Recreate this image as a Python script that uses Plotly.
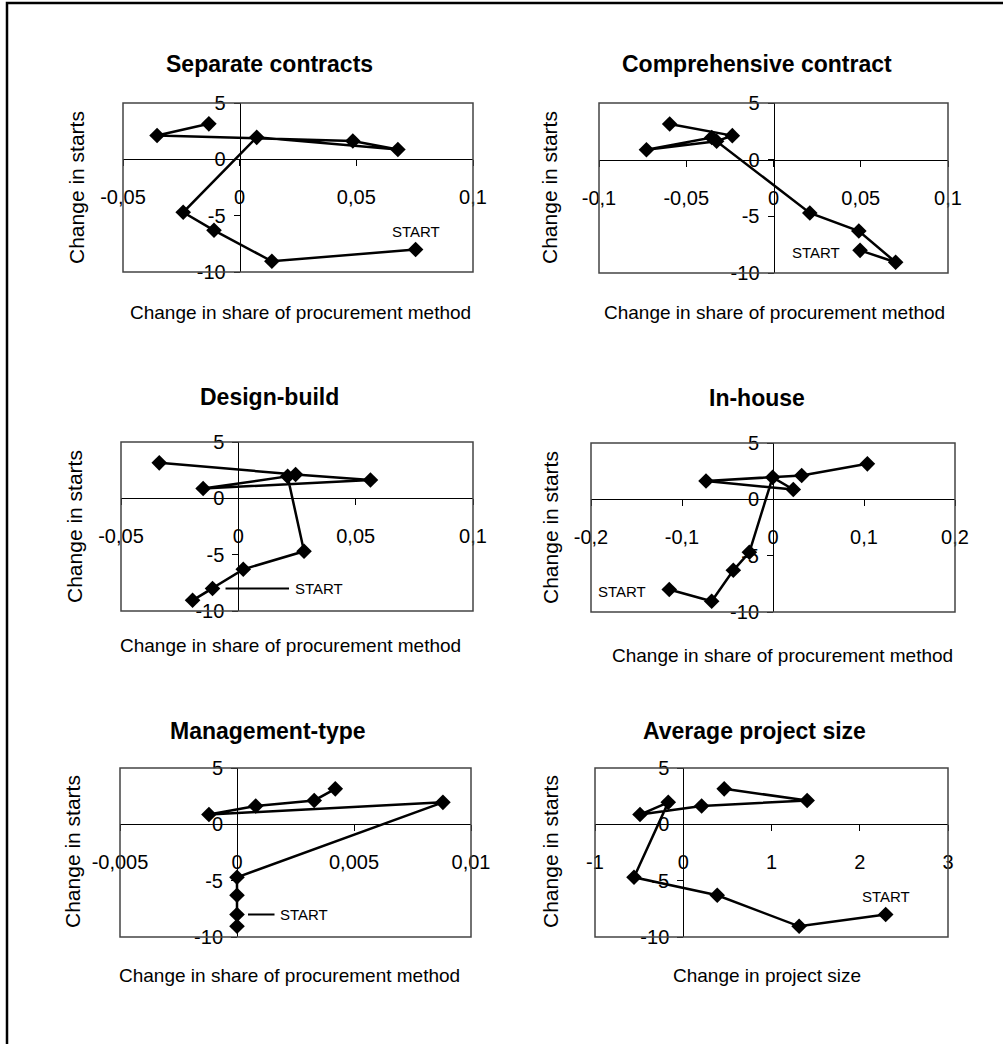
import plotly.graph_objects as go

# ---------------- data ----------------
change_in_starts = [-8.0, -9.05, -6.3, -4.7, 1.95, 0.87, 1.63, 2.12, 3.15]

separate_contracts_x = [0.0754, 0.0138, -0.011, -0.0242, 0.0073, 0.0678, 0.0485, -0.0354, -0.0132]
comprehensive_contract_x = [0.0496, 0.070, 0.0489, 0.0208, -0.0354, -0.0728, -0.0326, -0.0236, -0.0595]
design_build_x = [-0.011, -0.0195, 0.0021, 0.028, 0.021, -0.015, 0.0563, 0.0244, -0.0337]
in_house_x = [-0.114, -0.0674, -0.0436, -0.026, -0.0004, 0.0223, -0.0736, 0.0315, 0.1037]
management_type_x = [0.0, 0.0, 0.0, 0.0, 0.0088, -0.0012, 0.0008, 0.0033, 0.0042]
project_size_x = [2.294, 1.313, 0.385, -0.558, -0.17, -0.49, 0.208, 1.404, 0.464]

panel_titles = ["Separate contracts", "Comprehensive contract", "Design-build",
                "In-house", "Management-type", "Average project size"]
x_axis_titles = ["Change in share of procurement method"] * 5 + ["Change in project size"]
y_axis_title = "Change in starts"
start_label = "START"

y_tickvals = [-10, -5, 0, 5]
y_ticktext = ["-10", "-5", "0", "5"]

x_tickvals_005 = [-0.05, 0, 0.05, 0.1]
x_ticktext_005 = ["-0,05", "0", "0,05", "0,1"]
x_tickvals_01 = [-0.1, -0.05, 0, 0.05, 0.1]
x_ticktext_01 = ["-0,1", "-0,05", "0", "0,05", "0,1"]
x_tickvals_02 = [-0.2, -0.1, 0, 0.1, 0.2]
x_ticktext_02 = ["-0,2", "-0,1", "0", "0,1", "0,2"]
x_tickvals_0005 = [-0.005, 0, 0.005, 0.01]
x_ticktext_0005 = ["-0,005", "0", "0,005", "0,01"]
x_tickvals_size = [-1, 0, 1, 2, 3]
x_ticktext_size = ["-1", "0", "1", "2", "3"]

# ---------------- layout helpers ----------------
W, H = 1003, 1044
FONT = "Liberation Sans, Arial, sans-serif"
NARROW = "Liberation Sans Narrow, Arial Narrow, Liberation Sans, sans-serif"
Y_RANGE = [-10, 5]

panels = [
    dict(xs=separate_contracts_x, xr=[-0.05, 0.1], tv=x_tickvals_005, tt=x_ticktext_005,
         box=(123, 473, 103, 272), tpos=(269, 64), xtpos=(300, 312), ytpos=(77, 188),
         start=dict(kind="above", shift=18)),
    dict(xs=comprehensive_contract_x, xr=[-0.1, 0.1], tv=x_tickvals_01, tt=x_ticktext_01,
         box=(599, 948, 103, 273), tpos=(757, 64), xtpos=(774, 312), ytpos=(550, 188),
         start=dict(kind="left", shift=-18)),
    dict(xs=design_build_x, xr=[-0.05, 0.1], tv=x_tickvals_005, tt=x_ticktext_005,
         box=(121, 473, 442, 611), tpos=(269, 397), xtpos=(290, 645), ytpos=(74, 527),
         start=dict(kind="leader", ax=106, standoff=13)),
    dict(xs=in_house_x, xr=[-0.2, 0.2], tv=x_tickvals_02, tt=x_ticktext_02,
         box=(591, 955, 443, 612), tpos=(757, 398), xtpos=(782, 655), ytpos=(550, 528),
         start=dict(kind="left", shift=-21)),
    dict(xs=management_type_x, xr=[-0.005, 0.01], tv=x_tickvals_0005, tt=x_ticktext_0005,
         box=(120, 471, 768, 937), tpos=(268, 731), xtpos=(289, 975), ytpos=(72, 852),
         start=dict(kind="leader", ax=67, standoff=11)),
    dict(xs=project_size_x, xr=[-1, 3], tv=x_tickvals_size, tt=x_ticktext_size,
         box=(595, 948, 768, 937), tpos=(754, 731), xtpos=(767, 975), ytpos=(550, 852),
         start=dict(kind="above", shift=18)),
]

fig = go.Figure()
layout = dict(width=W, height=H,
              margin=dict(l=0, r=0, t=0, b=0, pad=0, autoexpand=False),
              paper_bgcolor="white", plot_bgcolor="white", showlegend=False,
              separators=",.", font=dict(family=FONT, color="black"))
annotations = []
shapes = []

for i, p in enumerate(panels, start=1):
    sfx = "" if i == 1 else str(i)
    xid, yid = "x" + sfx, "y" + sfx
    l, r, t, b = p["box"]
    xd = [l / W, r / W]
    yd = [1 - b / H, 1 - t / H]
    xr = p["xr"]
    x0_pos = xd[0] + (0 - xr[0]) / (xr[1] - xr[0]) * (xd[1] - xd[0])
    y0_pos = yd[0] + (0 - Y_RANGE[0]) / (Y_RANGE[1] - Y_RANGE[0]) * (yd[1] - yd[0])

    fig.add_trace(go.Scatter(
        x=p["xs"], y=change_in_starts, xaxis=xid, yaxis=yid,
        mode="lines+markers",
        line=dict(color="black", width=2.5),
        marker=dict(symbol="diamond", size=12, color="black"),
        cliponaxis=False, hoverinfo="skip"))

    layout["xaxis" + sfx] = dict(
        range=xr, domain=xd, anchor="free", position=y0_pos, automargin=False,
        showline=True, linecolor="black", linewidth=1,
        ticks="outside", ticklen=6, tickwidth=1, tickcolor="black",
        tickvals=p["tv"], ticktext=p["tt"], tickfont=dict(size=20, family=FONT),
        ticklabelstandoff=14, showgrid=False, zeroline=False, fixedrange=True)
    layout["yaxis" + sfx] = dict(
        range=Y_RANGE, domain=yd, anchor="free", position=x0_pos, automargin=False,
        showline=True, linecolor="black", linewidth=1,
        ticks="outside", ticklen=6, tickwidth=1, tickcolor="black",
        tickvals=y_tickvals, ticktext=y_ticktext, tickfont=dict(size=20, family=FONT),
        ticklabelstandoff=4, showgrid=False, zeroline=False, fixedrange=True)

    shapes.append(dict(type="rect", xref=xid + " domain", yref=yid + " domain",
                       x0=0, x1=1, y0=0, y1=1, line=dict(color="#444", width=1.5),
                       layer="above"))

    # panel title
    annotations.append(dict(text=panel_titles[i - 1], xref="paper", yref="paper",
                            x=p["tpos"][0] / W, y=1 - p["tpos"][1] / H,
                            showarrow=False, xanchor="center", yanchor="middle",
                            font=dict(size=23, family=FONT, weight="bold")))
    # x axis title
    annotations.append(dict(text=x_axis_titles[i - 1], xref="paper", yref="paper",
                            x=p["xtpos"][0] / W, y=1 - p["xtpos"][1] / H,
                            showarrow=False, xanchor="center", yanchor="middle",
                            font=dict(size=19, family=FONT)))
    # y axis title
    annotations.append(dict(text=y_axis_title, xref="paper", yref="paper",
                            x=p["ytpos"][0] / W, y=1 - p["ytpos"][1] / H,
                            showarrow=False, textangle=-90,
                            xanchor="center", yanchor="middle",
                            font=dict(size=21, family=FONT)))
    # START label
    s = p["start"]
    base = dict(text=start_label, xref=xid, yref=yid, x=p["xs"][0], y=change_in_starts[0],
                font=dict(size=15, family=NARROW, color="black"))
    if s["kind"] == "above":
        base.update(showarrow=False, yshift=s["shift"], xanchor="center", yanchor="middle")
    elif s["kind"] == "left":
        base.update(showarrow=False, xshift=s["shift"], yshift=-2,
                    xanchor="right", yanchor="middle")
    else:
        base.update(showarrow=True, arrowhead=0, arrowwidth=2, arrowcolor="black",
                    ax=s["ax"], ay=0, standoff=s["standoff"], borderpad=5)
    annotations.append(base)

# outer frame
shapes.append(dict(type="rect", xref="paper", yref="paper",
                   x0=7 / W, x1=1.05, y0=-0.05, y1=1 - 3 / H,
                   line=dict(color="black", width=2.5)))

layout["annotations"] = annotations
layout["shapes"] = shapes
fig.update_layout(**layout)

fig.write_html("out.html", config={"displayModeBar": False},
               post_script="document.body.style.margin='0';")
